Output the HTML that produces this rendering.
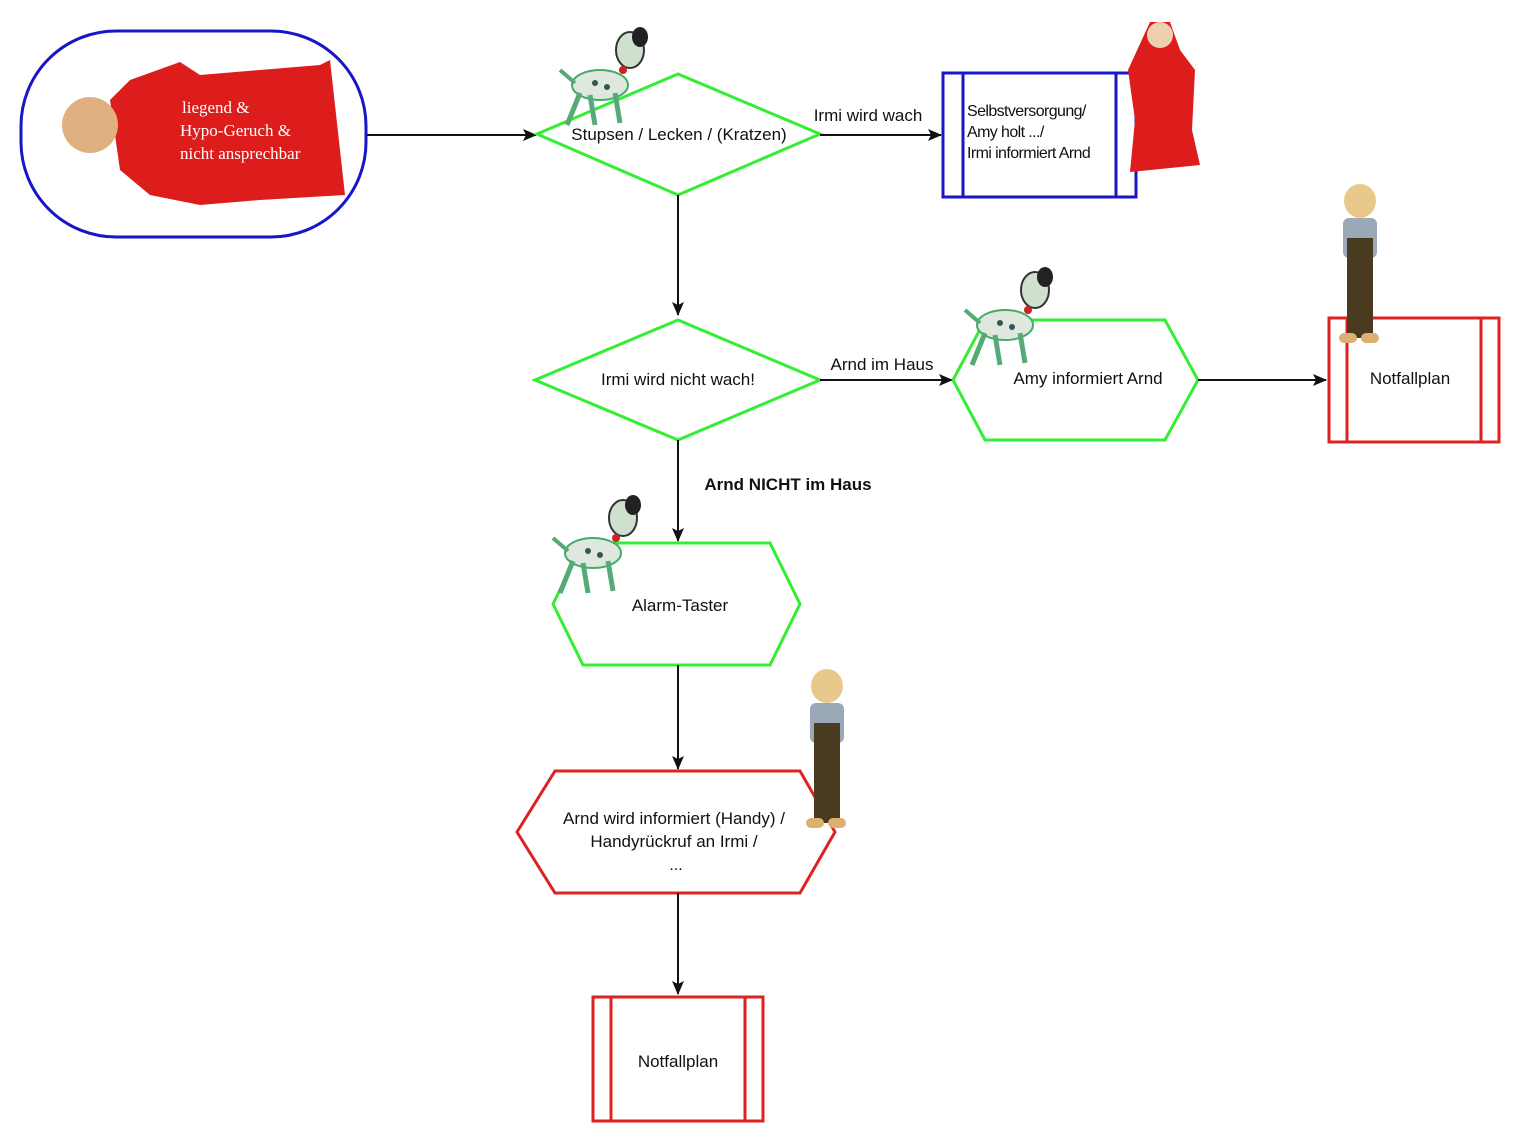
<!DOCTYPE html>
<html><head><meta charset="utf-8"><style>
html,body{margin:0;padding:0;background:#fff;}
svg{display:block;}
text{font-family:"Liberation Sans",sans-serif;font-size:16px;fill:#111;}
</style></head><body>
<svg width="1520" height="1140" viewBox="0 0 1520 1140" xmlns="http://www.w3.org/2000/svg">
<defs>
<marker id="ah" markerWidth="14" markerHeight="12" refX="13" refY="6" orient="auto" markerUnits="userSpaceOnUse">
<path d="M0,0 L14,6 L0,12 L3,6 Z" fill="#111"/>
</marker>
<g id="dog">
<ellipse cx="45" cy="60" rx="28" ry="15" fill="#dfe8df" stroke="#4a6" stroke-width="2"/>
<line x1="25" y1="68" x2="12" y2="100" stroke="#5a7" stroke-width="5"/>
<line x1="35" y1="70" x2="40" y2="100" stroke="#5a7" stroke-width="5"/>
<line x1="60" y1="68" x2="65" y2="98" stroke="#5a7" stroke-width="5"/>
<line x1="20" y1="58" x2="5" y2="45" stroke="#5a7" stroke-width="4"/>
<ellipse cx="75" cy="25" rx="14" ry="18" fill="#cfe0cf" stroke="#333" stroke-width="2"/>
<ellipse cx="85" cy="12" rx="8" ry="10" fill="#222"/>
<circle cx="68" cy="45" r="4" fill="#c22"/>
<circle cx="40" cy="58" r="3" fill="#355"/><circle cx="52" cy="62" r="3" fill="#355"/>
</g>
<g id="man">
<ellipse cx="27" cy="18" rx="16" ry="17" fill="#e9c98b"/>
<rect x="10" y="35" width="34" height="40" rx="6" fill="#9aa8b8"/>
<rect x="14" y="55" width="26" height="100" fill="#4a3a20"/>
<rect x="6" y="150" width="18" height="10" rx="5" fill="#dcb070"/>
<rect x="28" y="150" width="18" height="10" rx="5" fill="#dcb070"/>
</g>
</defs>

<rect x="21" y="31" width="345" height="206" rx="95" ry="95" fill="#fff" stroke="#1717c8" stroke-width="3"/>
<path d="M110,100 L130,80 L180,62 L200,75 L320,65 L330,60 L345,195 L260,200 L200,205 L150,195 L120,170 Z" fill="#dd1c1c"/>
<circle cx="90" cy="125" r="28" fill="#e0b080"/>
<text x="182" y="113" style="font-family:'Liberation Serif',serif;font-size:17px;fill:#fff">liegend &amp;</text>
<text x="180" y="136" style="font-family:'Liberation Serif',serif;font-size:17px;fill:#fff">Hypo-Geruch &amp;</text>
<text x="180" y="159" style="font-family:'Liberation Serif',serif;font-size:17px;fill:#fff">nicht ansprechbar</text>

<line x1="367" y1="135" x2="536" y2="135" stroke="#111" stroke-width="2" marker-end="url(#ah)"/>

<polygon points="537,134 678,74 820,134 678,195" fill="#fff" stroke="#33ee33" stroke-width="3"/>
<use href="#dog" x="555" y="25"/>
<text x="679" y="140" text-anchor="middle" style="font-size:17px">Stupsen / Lecken / (Kratzen)</text>

<line x1="820" y1="135" x2="941" y2="135" stroke="#111" stroke-width="2" marker-end="url(#ah)"/>
<text x="868" y="121" text-anchor="middle" style="font-size:17px">Irmi wird wach</text>

<rect x="943" y="73" width="193" height="124" fill="#fff" stroke="#1717c8" stroke-width="3"/>
<line x1="963" y1="73" x2="963" y2="197" stroke="#1717c8" stroke-width="3"/>
<line x1="1116" y1="73" x2="1116" y2="197" stroke="#1717c8" stroke-width="3"/>
<text x="967" y="116" style="font-size:16px;letter-spacing:-0.6px">Selbstversorgung/</text>
<text x="967" y="137" style="font-size:16px;letter-spacing:-0.6px">Amy holt .../</text>
<text x="967" y="158" style="font-size:16px;letter-spacing:-0.6px">Irmi informiert Arnd</text>
<path d="M1150,22 L1170,22 L1180,50 L1195,70 L1192,130 L1200,165 L1130,172 L1135,120 L1128,70 Z" fill="#dd1c1c"/>
<circle cx="1160" cy="35" r="13" fill="#ecd0b0"/>

<line x1="678" y1="195" x2="678" y2="315" stroke="#111" stroke-width="2" marker-end="url(#ah)"/>

<polygon points="535,380 678,320 820,380 678,440" fill="#fff" stroke="#33ee33" stroke-width="3"/>
<text x="678" y="385" text-anchor="middle" style="font-size:17px">Irmi wird nicht wach!</text>

<line x1="820" y1="380" x2="952" y2="380" stroke="#111" stroke-width="2" marker-end="url(#ah)"/>
<text x="882" y="370" text-anchor="middle" style="font-size:17px">Arnd im Haus</text>

<polygon points="953,380 985,320 1165,320 1198,380 1165,440 985,440" fill="#fff" stroke="#33ee33" stroke-width="3"/>
<use href="#dog" x="960" y="265"/>
<text x="1088" y="384" text-anchor="middle" style="font-size:17px">Amy informiert Arnd</text>

<line x1="1198" y1="380" x2="1326" y2="380" stroke="#111" stroke-width="2" marker-end="url(#ah)"/>

<rect x="1329" y="318" width="170" height="124" fill="#fff" stroke="#dd2222" stroke-width="3"/>
<line x1="1347" y1="318" x2="1347" y2="442" stroke="#dd2222" stroke-width="3"/>
<line x1="1481" y1="318" x2="1481" y2="442" stroke="#dd2222" stroke-width="3"/>
<use href="#man" x="1333" y="183"/>
<text x="1410" y="384" text-anchor="middle" style="font-size:17px">Notfallplan</text>

<line x1="678" y1="440" x2="678" y2="541" stroke="#111" stroke-width="2" marker-end="url(#ah)"/>
<text x="788" y="490" text-anchor="middle" style="font-weight:bold;font-size:17px">Arnd NICHT im Haus</text>

<polygon points="553,604 583,543 770,543 800,604 770,665 583,665" fill="#fff" stroke="#33ee33" stroke-width="3"/>
<use href="#dog" x="548" y="493"/>
<text x="680" y="611" text-anchor="middle" style="font-size:17px">Alarm-Taster</text>

<line x1="678" y1="665" x2="678" y2="769" stroke="#111" stroke-width="2" marker-end="url(#ah)"/>

<polygon points="517,832 555,771 800,771 835,832 800,893 555,893" fill="#fff" stroke="#dd2222" stroke-width="3"/>
<use href="#man" x="800" y="668"/>
<text x="674" y="824" text-anchor="middle" style="font-size:17px">Arnd wird informiert (Handy) /</text>
<text x="674" y="847" text-anchor="middle" style="font-size:17px">Handyrückruf an Irmi /</text>
<text x="676" y="870" text-anchor="middle">...</text>

<line x1="678" y1="893" x2="678" y2="994" stroke="#111" stroke-width="2" marker-end="url(#ah)"/>

<rect x="593" y="997" width="170" height="124" fill="#fff" stroke="#dd2222" stroke-width="3"/>
<line x1="611" y1="997" x2="611" y2="1121" stroke="#dd2222" stroke-width="3"/>
<line x1="745" y1="997" x2="745" y2="1121" stroke="#dd2222" stroke-width="3"/>
<text x="678" y="1067" text-anchor="middle" style="font-size:17px">Notfallplan</text>
</svg>
</body></html>
